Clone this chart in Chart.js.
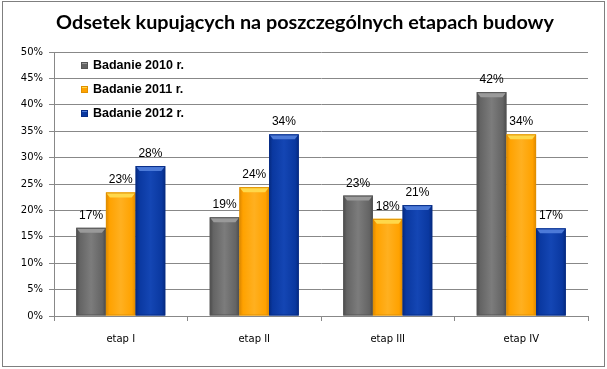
<!DOCTYPE html>
<html>
<head>
<meta charset="utf-8">
<script src="https://cdn.jsdelivr.net/npm/chart.js@4/dist/chart.umd.min.js"></script>
<style>
html,body{margin:0;padding:0;background:#fff;}
#wrap{position:relative;width:607px;height:369px;}
canvas{display:block;}
</style>
</head>
<body>
<div id="wrap"><canvas id="c" width="607" height="369"></canvas></div>
<script>
const categories = ["etap I", "etap II", "etap III", "etap IV"];
const seriesNames = ["Badanie 2010 r.", "Badanie 2011 r.", "Badanie 2012 r."];
const values2010 = [16.7, 18.7, 22.8, 42.4];
const values2011 = [23.4, 24.4, 18.4, 34.4];
const values2012 = [28.4, 34.4, 21.0, 16.6];
const yTicks = [0, 5, 10, 15, 20, 25, 30, 35, 40, 45, 50];
const titleText = "Odsetek kupujących na poszczególnych etapach budowy";

const palettes = [
  {body: "#646464", light: "#7c7c7c", dark: "#4a4a4a", top: "#9a9a9a", edge: "#555555"},
  {body: "#FFA200", light: "#FFB020", dark: "#E08600", top: "#FFD84A", edge: "#E09000"},
  {body: "#0A38A0", light: "#1446B4", dark: "#062A80", top: "#4C7AD8", edge: "#072C86"}
];

const bevelPlugin = {
  id: "bevel",
  afterDatasetsDraw(chart) {
    const ctx = chart.ctx;
    chart.data.datasets.forEach((ds, di) => {
      const p = palettes[di];
      chart.getDatasetMeta(di).data.forEach(bar => {
        const w = bar.width, x0 = bar.x - w / 2, x1 = bar.x + w / 2;
        const yt = bar.y, yb = bar.base;
        ctx.save();
        const g = ctx.createLinearGradient(x0, 0, x1, 0);
        g.addColorStop(0, p.dark);
        g.addColorStop(0.12, p.body);
        g.addColorStop(0.5, p.light);
        g.addColorStop(0.88, p.body);
        g.addColorStop(1, p.dark);
        ctx.fillStyle = g;
        ctx.fillRect(x0, yt, w, yb - yt);
        const bh = Math.min(5, (yb - yt) / 2);
        ctx.beginPath();
        ctx.moveTo(x0, yt);
        ctx.lineTo(x1, yt);
        ctx.lineTo(x1 - 4, yt + bh);
        ctx.lineTo(x0 + 4, yt + bh);
        ctx.closePath();
        ctx.fillStyle = p.top;
        ctx.fill();
        ctx.strokeStyle = p.edge;
        ctx.lineWidth = 1;
        ctx.strokeRect(x0 + 0.5, yt + 0.5, w - 1, yb - yt - 1);
        ctx.restore();
      });
    });
    ctx.save();
    ctx.font = "12px 'Liberation Sans', Arial, sans-serif";
    ctx.fillStyle = "#000";
    ctx.textAlign = "center";
    ctx.textBaseline = "alphabetic";
    chart.data.datasets.forEach((ds, di) => {
      chart.getDatasetMeta(di).data.forEach((bar, i) => {
        ctx.fillText(Math.round(ds.data[i]) + "%", bar.x, bar.y - 9);
      });
    });
    ctx.restore();
  },
  afterDraw(chart) {
    const ctx = chart.ctx;
    ctx.save();
    ctx.strokeStyle = "#7f7f7f";
    ctx.lineWidth = 1;
    ctx.strokeRect(2.5, 1.5, 602, 365);
    let fs = 19;
    ctx.font = "bold " + fs + "px Lato, 'Liberation Sans', sans-serif";
    const tw = ctx.measureText(titleText).width;
    fs = fs * 498 / tw;
    ctx.font = "bold " + fs.toFixed(2) + "px Lato, 'Liberation Sans', sans-serif";
    ctx.fillStyle = "#000";
    ctx.textAlign = "center";
    ctx.textBaseline = "middle";
    ctx.fillText(titleText, 305, 23);
    ctx.font = "bold 12.5px 'Liberation Sans', Arial, sans-serif";
    ctx.textAlign = "left";
    const lx = 81, ly = [66, 90, 114];
    seriesNames.forEach((n, i) => {
      const p = palettes[i];
      const y = ly[i];
      ctx.fillStyle = p.body;
      ctx.fillRect(lx, y - 4, 7, 7);
      ctx.fillStyle = p.top;
      ctx.fillRect(lx + 1, y - 4, 5, 2);
      ctx.strokeStyle = p.edge;
      ctx.strokeRect(lx + 0.5, y - 3.5, 6, 6);
      ctx.fillStyle = "#000";
      ctx.fillText(n, 93, y);
    });
    ctx.restore();
  }
};

const transparent = "rgba(0,0,0,0)";
new Chart(document.getElementById("c"), {
  type: "bar",
  data: {
    labels: categories,
    datasets: [
      {label: seriesNames[0], data: values2010, backgroundColor: transparent},
      {label: seriesNames[1], data: values2011, backgroundColor: transparent},
      {label: seriesNames[2], data: values2012, backgroundColor: transparent}
    ]
  },
  options: {
    responsive: false,
    animation: false,
    devicePixelRatio: 1,
    layout: {padding: {left: 0, right: 19, top: 52, bottom: 0}},
    plugins: {legend: {display: false}, title: {display: false}, tooltip: {enabled: false}},
    datasets: {bar: {categoryPercentage: 0.667, barPercentage: 1.0}},
    scales: {
      x: {
        grid: {display: true, drawOnChartArea: false, offset: true, color: "#888", tickLength: 5},
        border: {color: "#888"},
        ticks: {color: "#000", font: {family: "'DejaVu Sans', Verdana, sans-serif", size: 10}, padding: 12},
        afterFit(s) { s.height = 53; }
      },
      y: {
        min: 0, max: 50,
        afterBuildTicks(s) { s.ticks = yTicks.map(v => ({value: v})); },
        grid: {color: "#888", tickLength: 5},
        border: {color: "#888"},
        ticks: {color: "#000", font: {family: "'DejaVu Sans', Verdana, sans-serif", size: 10}, padding: 6,
                callback: v => v + "%"},
        afterFit(s) { s.width = 54; }
      }
    }
  },
  plugins: [bevelPlugin]
});
</script>
</body>
</html>
